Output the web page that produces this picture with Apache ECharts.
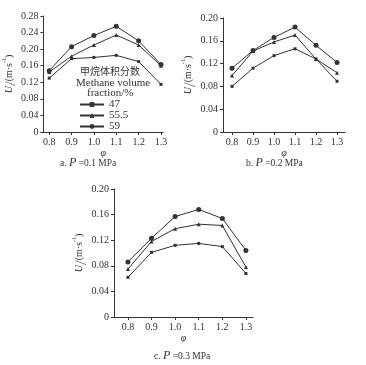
<!DOCTYPE html>
<html><head><meta charset="utf-8">
<script src="https://cdn.jsdelivr.net/npm/echarts@6/dist/echarts.min.js"></script>
<style>html,body{margin:0;padding:0;background:#fff}#c{width:366px;height:365px}</style>
</head><body><div id="c"></div>
<script>
const phi = [0.8, 0.9, 1.0, 1.1, 1.2, 1.3];
const seriesNames = ['47', '55.5', '59'];
// Panel a: P = 0.1 MPa
const a47 = [0.130, 0.177, 0.180, 0.185, 0.170, 0.115];
const a555 = [0.145, 0.183, 0.210, 0.234, 0.210, 0.160];
const a59 = [0.148, 0.206, 0.233, 0.255, 0.220, 0.163];
// Panel b: P = 0.2 MPa
const b47 = [0.080, 0.112, 0.134, 0.146, 0.128, 0.089];
const b555 = [0.099, 0.142, 0.158, 0.170, 0.128, 0.104];
const b59 = [0.112, 0.143, 0.166, 0.184, 0.152, 0.122];
// Panel c: P = 0.3 MPa
const c47 = [0.062, 0.101, 0.112, 0.115, 0.110, 0.068];
const c555 = [0.075, 0.118, 0.138, 0.145, 0.143, 0.078];
const c59 = [0.086, 0.123, 0.157, 0.168, 0.154, 0.104];
const yTicksA = [0, 0.04, 0.08, 0.12, 0.16, 0.20, 0.24, 0.28];
const yTicksBC = [0, 0.04, 0.08, 0.12, 0.16, 0.20];
const captions = ['a.', 'b.', 'c.'];
const pressures = ['0.1', '0.2', '0.3'];

const FONT = 'Liberation Serif';
const INK = '#333';
const grids = [
  {left: 42, top: 16, width: 121, height: 116},
  {left: 223, top: 18, width: 122, height: 114},
  {left: 114, top: 189, width: 139, height: 128}
];
const xr = [[0.774, 1.309], [0.757, 1.338], [0.741, 1.33]];
const yMax = [0.28, 0.20, 0.20];
const yTicks = [yTicksA, yTicksBC, yTicksBC];
const panels = [[a47, a555, a59], [b47, b555, b59], [c47, c555, c59]];
const symbols = ['rect', 'triangle', 'circle'];
const symSizes = [3, 4, 5];

const xAxes = [], yAxes = [], series = [];
grids.forEach((g, i) => {
  xAxes.push({
    type: 'value', gridIndex: i, min: xr[i][0], max: xr[i][1],
    name: 'φ', nameLocation: 'middle', nameGap: 16,
    nameTextStyle: {fontFamily: FONT, fontSize: 10, fontStyle: 'italic', color: INK},
    axisLine: {lineStyle: {color: INK, width: 1}},
    axisTick: {customValues: phi, length: 3, lineStyle: {color: INK}},
    axisLabel: {customValues: phi, formatter: v => v.toFixed(1), fontFamily: FONT, fontSize: 10, color: INK, margin: 5},
    splitLine: {show: false}
  });
  yAxes.push({
    type: 'value', gridIndex: i, min: 0, max: yMax[i],
    name: '{i|U}{s|l}{n|/(m·s}{p|-1}{n|)}', nameLocation: 'middle', nameRotate: 90, nameGap: 25,
    nameTextStyle: {fontFamily: FONT, color: INK, fontSize: 10,
      rich: {
        i: {fontFamily: FONT, fontStyle: 'italic', fontSize: 10, color: INK},
        s: {fontFamily: FONT, fontStyle: 'italic', fontSize: 7, color: INK, verticalAlign: 'bottom', padding: [0, 0, -3, 0]},
        n: {fontFamily: FONT, fontSize: 10, color: INK},
        p: {fontFamily: FONT, fontSize: 6, color: INK, verticalAlign: 'top', padding: [-3, 0, 0, 0]}
      }},
    axisLine: {show: true, lineStyle: {color: INK, width: 1}},
    axisTick: {show: true, customValues: yTicks[i], length: 3, lineStyle: {color: INK}},
    axisLabel: {customValues: yTicks[i], formatter: v => v === 0 ? '0' : v.toFixed(2), fontFamily: FONT, fontSize: 10, color: INK, margin: 5},
    splitLine: {show: false}
  });
  panels[i].forEach((vals, k) => {
    series.push({
      type: 'line', name: seriesNames[k], xAxisIndex: i, yAxisIndex: i,
      data: phi.map((x, j) => [x, vals[j]]),
      symbol: symbols[k], symbolSize: symSizes[k],
      lineStyle: {color: INK, width: 1}, itemStyle: {color: INK},
      animation: false
    });
  });
});

const capPos = [[84, 164], [270, 164], [178, 357]];
const graphics = captions.map((c, i) => ({
  type: 'text', left: capPos[i][0] - 24, top: capPos[i][1] - 7,
  style: {
    text: '{n|' + c + ' }{p|P}{n| =' + pressures[i] + ' MPa}',
    rich: {
      n: {fontFamily: FONT, fontSize: 9.5, fill: INK},
      p: {fontFamily: FONT, fontSize: 12, fontStyle: 'italic', fill: INK}
    }
  }
}));
graphics.push({
  type: 'text', left: 80, top: 66,
  style: {text: '甲烷体积分数', fontFamily: 'Noto Sans CJK SC', fontSize: 10, fill: INK}
});
graphics.push({
  type: 'text', left: 76, top: 78,
  style: {text: 'Methane volume', fontFamily: FONT, fontSize: 11, fill: INK}
});
graphics.push({
  type: 'text', left: 87, top: 88,
  style: {text: 'fraction/%', fontFamily: FONT, fontSize: 11, fill: INK}
});

const chart = echarts.init(document.getElementById('c'));
chart.setOption({
  animation: false,
  backgroundColor: '#fff',
  grid: grids,
  xAxis: xAxes, yAxis: yAxes, series: series,
  legend: {
    data: seriesNames, orient: 'vertical', left: 79, top: 99, padding: 0,
    itemWidth: 24, itemHeight: 6, itemGap: 0,
    textStyle: {fontFamily: FONT, fontSize: 11, color: INK, lineHeight: 9, height: 9}
  },
  graphic: graphics
});
</script></body></html>
